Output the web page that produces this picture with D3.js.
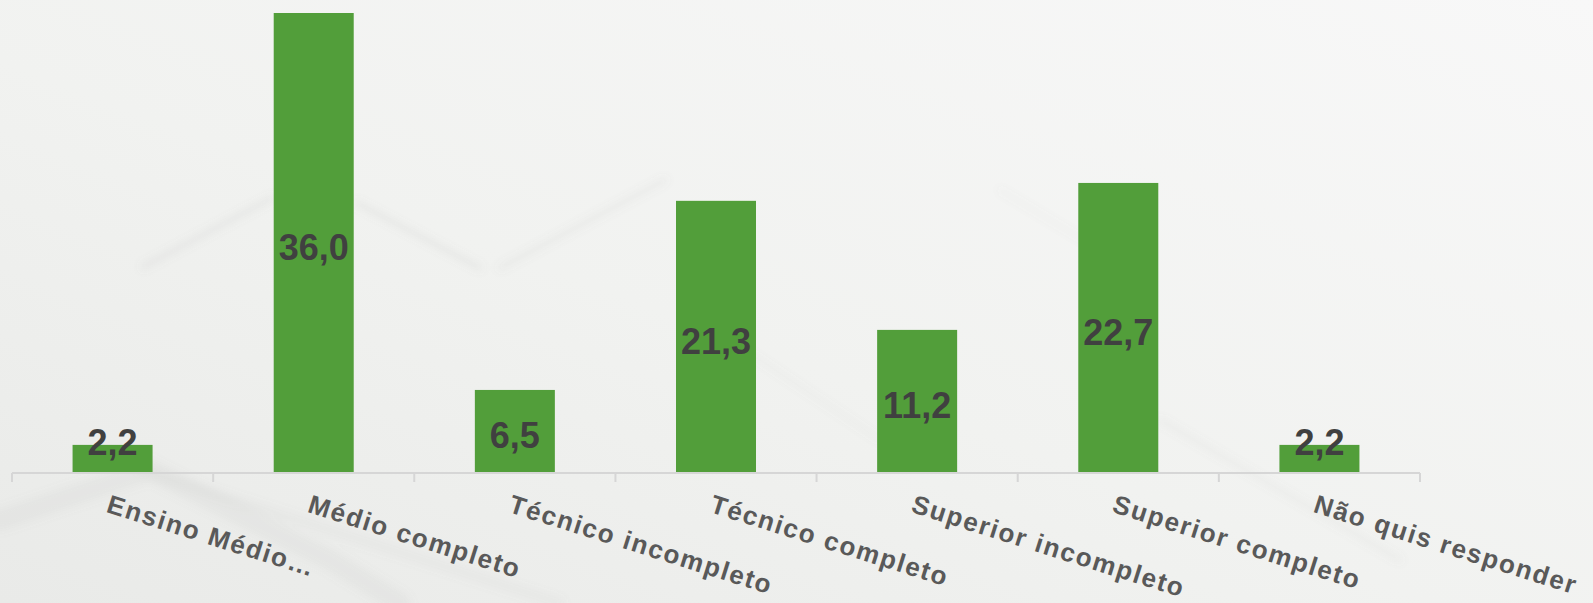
<!DOCTYPE html>
<html>
<head>
<meta charset="utf-8">
<script src="https://cdn.jsdelivr.net/npm/d3@7"></script>
<style>
  body { margin: 0; background: #f3f4f2; }
  svg { display: block; }
  .bar-label { font-family: "Liberation Sans", Arial, sans-serif; font-weight: bold; font-size: 36px; fill: #404040; }
  .cat-label { font-family: "Liberation Sans", Arial, sans-serif; font-weight: bold; font-size: 26px; fill: #595959; letter-spacing: 1.7px; }
</style>
</head>
<body>
<svg width="1593" height="603"></svg>
<script>
var categories = ["Ensino Médio…", "Médio completo", "Técnico incompleto", "Técnico completo",
                  "Superior incompleto", "Superior completo", "Não quis responder"];
var values = [2.2, 36.0, 6.5, 21.3, 11.2, 22.7, 2.2];

var svg = d3.select("svg"),
    width = 1593, height = 603,
    margin = {left: 12, right: 173, top: 13, bottom: 130};

// background
var defs = svg.append("defs");
var grad = defs.append("linearGradient")
    .attr("id", "bg").attr("x1", "0").attr("y1", "1").attr("x2", "1").attr("y2", "0");
grad.append("stop").attr("offset", "0").attr("stop-color", "#e9eae8");
grad.append("stop").attr("offset", "0.45").attr("stop-color", "#f1f2f0");
grad.append("stop").attr("offset", "1").attr("stop-color", "#f8f8f8");
defs.append("filter").attr("id", "blur")
  .append("feGaussianBlur").attr("stdDeviation", 4);

svg.append("rect").attr("width", width).attr("height", height).attr("fill", "url(#bg)");

// faint decorative strokes
var deco = svg.append("g").attr("filter", "url(#blur)").attr("fill", "none").attr("stroke-linecap", "round");
[
  {d: "M143,267 L272,198", w: 5, o: 0.12},
  {d: "M357,203 L480,268", w: 5, o: 0.12},
  {d: "M500,268 L665,180", w: 5, o: 0.09},
  {d: "M0,520 L150,470 L330,560 L400,603", w: 22, o: 0.07},
  {d: "M140,470 L560,603", w: 10, o: 0.06},
  {d: "M1160,420 L1400,560", w: 5, o: 0.08},
  {d: "M700,320 L880,440", w: 5, o: 0.05},
  {d: "M1000,190 L1100,250", w: 4, o: 0.05}
].forEach(function(s) {
  deco.append("path").attr("d", s.d).attr("stroke", "#8a8a8a")
      .attr("stroke-width", s.w).attr("stroke-opacity", s.o);
});

var xOuter = d3.scaleBand()
    .domain(categories)
    .range([margin.left, width - margin.right]);

var y = d3.scaleLinear()
    .domain([0, 36])
    .range([height - margin.bottom, margin.top]);

var barW = 80;
var g = svg.append("g");

g.selectAll(".bar")
  .data(values)
  .enter().append("rect")
    .attr("class", "bar")
    .attr("x", function(d, i) { return xOuter(categories[i]) + (xOuter.bandwidth() - barW) / 2; })
    .attr("y", function(d) { return y(d); })
    .attr("width", barW)
    .attr("height", function(d) { return y(0) - y(d); })
    .attr("fill", "#529e3a");

// axis line + ticks
var axis = g.append("g").attr("transform", "translate(0," + y(0) + ")");
axis.append("line")
    .attr("x1", margin.left).attr("x2", width - margin.right)
    .attr("stroke", "#d6d6d6").attr("stroke-width", 2);
var tickPos = categories.map(function(c) { return xOuter(c); }).concat([width - margin.right]);
axis.selectAll(".tick")
  .data(tickPos)
  .enter().append("line")
    .attr("x1", function(d) { return d; }).attr("x2", function(d) { return d; })
    .attr("y1", 0).attr("y2", 9)
    .attr("stroke", "#d6d6d6").attr("stroke-width", 2);

// value labels
g.selectAll(".bar-label")
  .data(values)
  .enter().append("text")
    .attr("class", "bar-label")
    .attr("text-anchor", "middle")
    .attr("x", function(d, i) { return xOuter(categories[i]) + xOuter.bandwidth() / 2; })
    .attr("y", function(d) {
      var mid = (y(d) + y(0)) / 2 + 17;
      return Math.min(mid, y(0) - 18);
    })
    .text(function(d) { return d.toFixed(1).replace(".", ","); });

// category labels
g.selectAll(".cat-label")
  .data(categories)
  .enter().append("text")
    .attr("class", "cat-label")
    .attr("transform", function(d) {
      return "translate(" + (xOuter(d) + xOuter.bandwidth() / 2 - 1) + "," + (y(0) + 19) + ") rotate(17.5)";
    })
    .attr("dy", "0.8em")
    .text(function(d) { return d; });
</script>
</body>
</html>
